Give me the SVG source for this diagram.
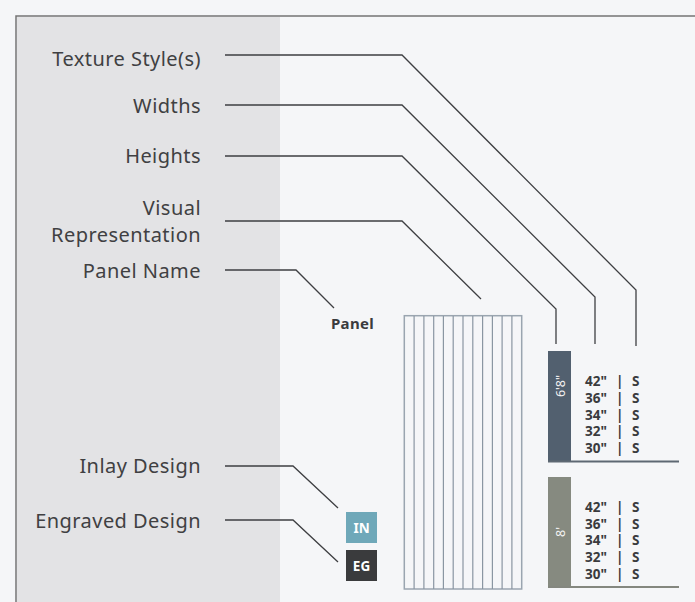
<svg xmlns="http://www.w3.org/2000/svg" width="695" height="602" viewBox="0 0 695 602">
<style>
.lbl{font-family:"Noto Sans","Open Sans","Liberation Sans",sans-serif;font-size:20px;letter-spacing:0.45px;fill:#404042;text-anchor:end}
.con{fill:none;stroke:#3e3f42;stroke-width:1.3}
.row{font-family:"Noto Sans","Liberation Sans",sans-serif;font-size:13.5px;font-weight:bold;fill:#3a3b3e}
.strip{stroke:#8a96a2;stroke-width:1.2}
.tag{font-family:"Noto Sans","Liberation Sans",sans-serif;font-size:13.5px;font-weight:bold;fill:#ffffff;text-anchor:middle}
.ht{font-family:"Noto Sans","Liberation Sans",sans-serif;font-size:12.5px;fill:#f2f2f2;text-anchor:middle}
</style>
<rect x="0" y="0" width="695" height="602" fill="#f5f6f8"/>
<rect x="17" y="17" width="263" height="585" fill="#e3e3e5"/>
<path d="M16,602 V16 H695" fill="none" stroke="#747474" stroke-width="1.5"/>

<g id="labels">
<text class="lbl" x="201" y="66">Texture Style(s)</text>
<text class="lbl" x="201" y="113">Widths</text>
<text class="lbl" x="201" y="163">Heights</text>
<text class="lbl" x="201" y="215">Visual</text>
<text class="lbl" x="201" y="242">Representation</text>
<text class="lbl" x="201" y="278">Panel Name</text>
<text class="lbl" x="201" y="473">Inlay Design</text>
<text class="lbl" x="201" y="528">Engraved Design</text>
</g>

<g id="connectors">
<polyline class="con" points="225,55 402,55 636,290 636,346"/>
<polyline class="con" points="225,105 402,105 595,297 595,344"/>
<polyline class="con" points="225,156 402,156 556,309 556,344"/>
<polyline class="con" points="225,221 402,221 481,299"/>
<polyline class="con" points="225,270 296,270 334,308"/>
<polyline class="con" points="225,466 293,466 338,508"/>
<polyline class="con" points="225,520 293,520 338,562"/>
</g>

<g id="panel-name">
<text x="331" y="329" font-family="'Noto Sans','Liberation Sans',sans-serif" font-size="15" font-weight="bold" letter-spacing="0.3" fill="#3a3b3e">Panel</text>
</g>

<g id="visual">
<rect x="404.3" y="315.7" width="117.4" height="273.3" fill="#f5f6f8" stroke="#9aa5b0" stroke-width="1.5"/>
<g class="strip">
<line x1="414.1" y1="316" x2="414.1" y2="589"/>
<line x1="423.9" y1="316" x2="423.9" y2="589"/>
<line x1="433.7" y1="316" x2="433.7" y2="589"/>
<line x1="443.4" y1="316" x2="443.4" y2="589"/>
<line x1="453.2" y1="316" x2="453.2" y2="589"/>
<line x1="463.0" y1="316" x2="463.0" y2="589"/>
<line x1="472.8" y1="316" x2="472.8" y2="589"/>
<line x1="482.6" y1="316" x2="482.6" y2="589"/>
<line x1="492.4" y1="316" x2="492.4" y2="589"/>
<line x1="502.1" y1="316" x2="502.1" y2="589"/>
<line x1="511.9" y1="316" x2="511.9" y2="589"/>
</g>
</g>

<g id="inlay">
<rect x="346" y="512" width="31" height="31" fill="#6fa8b9"/>
<text class="tag" x="361.5" y="532.5">IN</text>
</g>
<g id="engraved">
<rect x="346" y="550" width="31" height="31" fill="#3a3b3d"/>
<text class="tag" x="361.5" y="570.5">EG</text>
</g>

<g id="height-68">
<rect x="548" y="351" width="23" height="110.5" fill="#52606f"/>
<line x1="548" y1="461.5" x2="679" y2="461.5" stroke="#5e6873" stroke-width="2"/>
<text class="ht" transform="translate(564.5,386) rotate(-90)">6'8"</text>
<text class="row" y="386"><tspan x="585">42"</tspan><tspan x="616">|</tspan><tspan x="632">S</tspan></text>
<text class="row" y="403"><tspan x="585">36"</tspan><tspan x="616">|</tspan><tspan x="632">S</tspan></text>
<text class="row" y="419.5"><tspan x="585">34"</tspan><tspan x="616">|</tspan><tspan x="632">S</tspan></text>
<text class="row" y="436"><tspan x="585">32"</tspan><tspan x="616">|</tspan><tspan x="632">S</tspan></text>
<text class="row" y="452.5"><tspan x="585">30"</tspan><tspan x="616">|</tspan><tspan x="632">S</tspan></text>
</g>

<g id="height-8">
<rect x="548" y="477" width="23" height="110" fill="#868a80"/>
<line x1="548" y1="587" x2="679" y2="587" stroke="#84877f" stroke-width="2"/>
<text class="ht" transform="translate(564.5,532) rotate(-90)">8'</text>
<text class="row" y="511.5"><tspan x="585">42"</tspan><tspan x="616">|</tspan><tspan x="632">S</tspan></text>
<text class="row" y="528.5"><tspan x="585">36"</tspan><tspan x="616">|</tspan><tspan x="632">S</tspan></text>
<text class="row" y="545"><tspan x="585">34"</tspan><tspan x="616">|</tspan><tspan x="632">S</tspan></text>
<text class="row" y="562"><tspan x="585">32"</tspan><tspan x="616">|</tspan><tspan x="632">S</tspan></text>
<text class="row" y="579"><tspan x="585">30"</tspan><tspan x="616">|</tspan><tspan x="632">S</tspan></text>
</g>
</svg>
